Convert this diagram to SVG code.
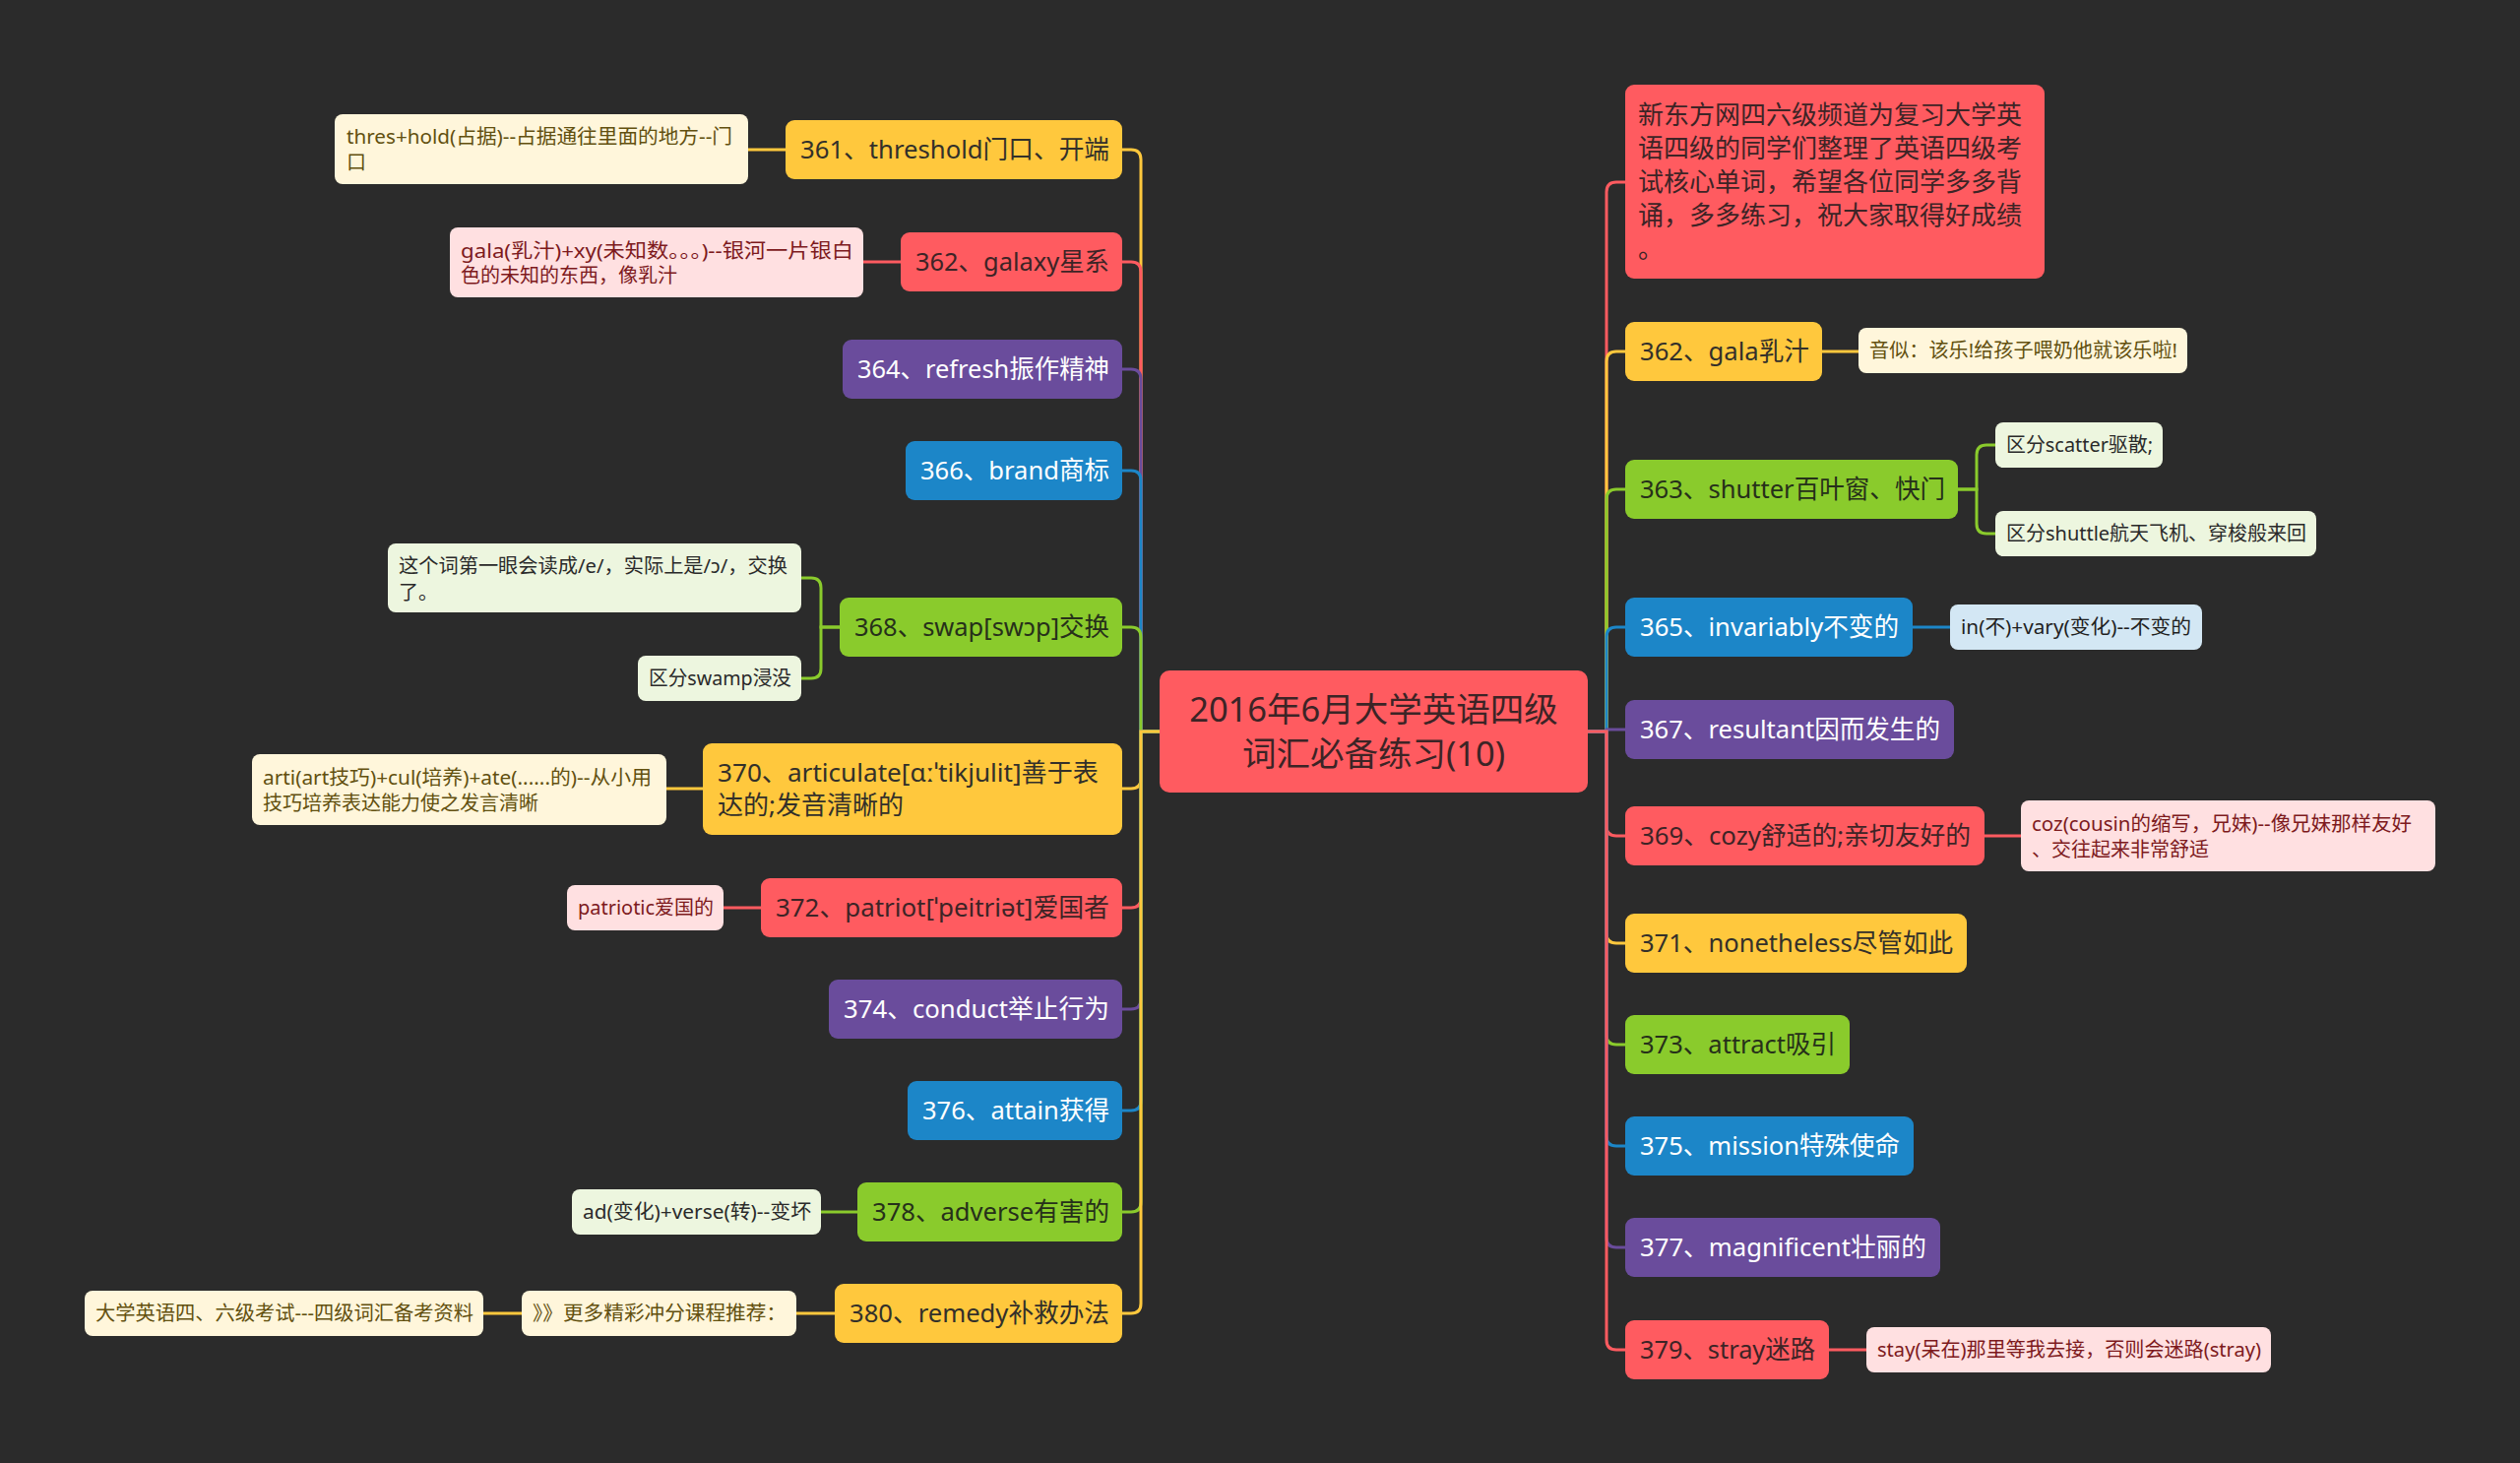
<svg xmlns="http://www.w3.org/2000/svg" width="2560" height="1486" viewBox="0 0 2560 1486">
<style>
text{font-family:'Noto Sans','Noto Sans CJK SC',sans-serif;}
.m{font-size:26px}
.s{font-size:20px}
.ttl{font-size:34.5px;fill:#3c2426;text-anchor:middle}
.fy{fill:#FFC83D}.fr{fill:#FF5B60}.fp{fill:#6A4C9C}.fb{fill:#1C86C8}.fg{fill:#8ACB2C}
.ny{fill:#FFF6DB}.nr{fill:#FFE0E1}.ng{fill:#EDF6DF}.nb{fill:#D3E7F4}
.ty{fill:#33302a}.tr{fill:#3d2426}.tg{fill:#26301a}.tw{fill:#ffffff}
.ky{fill:#62500f}.kr{fill:#7d1a1d}.kg{fill:#2a2a2a}.kb{fill:#1f1f1f}
.c{fill:none;stroke-width:3}
.cy{stroke:#FFC83D}.cr{stroke:#FF5B60}.cp{stroke:#6A4C9C}.cb{stroke:#1C86C8}.cg{stroke:#8ACB2C}
</style>
<rect width="2560" height="1486" fill="#2b2b2b"/>
<g id="connectors">
<path class="c cy" d="M1178 743 H1159 V162 Q1159 152 1149 152 H1140"/>
<path class="c cr" d="M1178 743 H1159 V276 Q1159 266 1149 266 H1140"/>
<path class="c cp" d="M1178 743 H1159 V385 Q1159 375 1149 375 H1140"/>
<path class="c cb" d="M1178 743 H1159 V488 Q1159 478 1149 478 H1140"/>
<path class="c cg" d="M1178 743 H1159 V647 Q1159 637 1149 637 H1140"/>
<path class="c cy" d="M1178 743 H1159 V791 Q1159 801 1149 801 H1140"/>
<path class="c cr" d="M1178 743 H1159 V912 Q1159 922 1149 922 H1140"/>
<path class="c cp" d="M1178 743 H1159 V1015 Q1159 1025 1149 1025 H1140"/>
<path class="c cb" d="M1178 743 H1159 V1118 Q1159 1128 1149 1128 H1140"/>
<path class="c cg" d="M1178 743 H1159 V1221 Q1159 1231 1149 1231 H1140"/>
<path class="c cy" d="M1178 743 H1159 V1324 Q1159 1334 1149 1334 H1140"/>
<path class="c cr" d="M1613 743 H1632 V195 Q1632 185 1642 185 H1651"/>
<path class="c cy" d="M1613 743 H1632 V367 Q1632 357 1642 357 H1651"/>
<path class="c cg" d="M1613 743 H1632 V507 Q1632 497 1642 497 H1651"/>
<path class="c cb" d="M1613 743 H1632 V647 Q1632 637 1642 637 H1651"/>
<path class="c cp" d="M1613 743 H1632 V741 H1651"/>
<path class="c cr" d="M1613 743 H1632 V839 Q1632 849 1642 849 H1651"/>
<path class="c cy" d="M1613 743 H1632 V948 Q1632 958 1642 958 H1651"/>
<path class="c cg" d="M1613 743 H1632 V1051 Q1632 1061 1642 1061 H1651"/>
<path class="c cb" d="M1613 743 H1632 V1154 Q1632 1164 1642 1164 H1651"/>
<path class="c cp" d="M1613 743 H1632 V1257 Q1632 1267 1642 1267 H1651"/>
<path class="c cr" d="M1613 743 H1632 V1361 Q1632 1371 1642 1371 H1651"/>
<path class="c cy" d="M798 152 H760"/>
<path class="c cr" d="M915 266 H877"/>
<path class="c cg" d="M853 637 H834 V597 Q834 587 824 587 H814"/>
<path class="c cg" d="M853 637 H834 V679 Q834 689 824 689 H814"/>
<path class="c cy" d="M714 801 H677"/>
<path class="c cr" d="M773 922 H735"/>
<path class="c cg" d="M871 1231 H834"/>
<path class="c cy" d="M848 1334 H809"/>
<path class="c cy" d="M530 1334 H491"/>
<path class="c cy" d="M1851 357 H1888"/>
<path class="c cg" d="M1989 497 H2008 V462 Q2008 452 2018 452 H2027"/>
<path class="c cg" d="M1989 497 H2008 V532 Q2008 542 2018 542 H2027"/>
<path class="c cb" d="M1943 637 H1981"/>
<path class="c cr" d="M2016 849 H2053"/>
<path class="c cr" d="M1858 1371 H1896"/>
</g>
<g id="root">
<rect class="fr" x="1178" y="681" width="435" height="124" rx="10"/>
<text class="ttl" x="1395.5" y="733">2016年6月大学英语四级</text>
<text class="ttl" x="1395.5" y="778">词汇必备练习(10)</text>
</g>
<g id="n361"><rect class="fy" x="798" y="122" width="342" height="60" rx="9"/><text class="m ty" x="813" y="161" textLength="314" lengthAdjust="spacingAndGlyphs">361、threshold门口、开端</text></g>
<g id="n361a"><rect class="ny" x="340" y="116" width="420" height="71" rx="8"/><text class="s ky" x="352" y="146" textLength="392" lengthAdjust="spacingAndGlyphs">thres+hold(占据)--占据通往里面的地方--门</text><text class="s ky" x="352" y="172">口</text></g>
<g id="n362"><rect class="fr" x="915" y="236" width="225" height="60" rx="9"/><text class="m tr" x="930" y="275" textLength="197" lengthAdjust="spacingAndGlyphs">362、galaxy星系</text></g>
<g id="n362a"><rect class="nr" x="457" y="231" width="420" height="71" rx="8"/><text class="s kr" x="468" y="262" textLength="399" lengthAdjust="spacingAndGlyphs">gala(乳汁)+xy(未知数。。。)--银河一片银白</text><text class="s kr" x="468" y="287">色的未知的东西，像乳汁</text></g>
<g id="n364"><rect class="fp" x="856" y="345" width="284" height="60" rx="9"/><text class="m tw" x="871" y="384" textLength="256" lengthAdjust="spacingAndGlyphs">364、refresh振作精神</text></g>
<g id="n366"><rect class="fb" x="920" y="448" width="220" height="60" rx="9"/><text class="m tw" x="935" y="487" textLength="192" lengthAdjust="spacingAndGlyphs">366、brand商标</text></g>
<g id="n368"><rect class="fg" x="853" y="607" width="287" height="60" rx="9"/><text class="m tg" x="868" y="646" textLength="259" lengthAdjust="spacingAndGlyphs">368、swap[swɔp]交换</text></g>
<g id="n368a"><rect class="ng" x="394" y="552" width="420" height="70" rx="8"/><text class="s kg" x="405" y="582" textLength="395" lengthAdjust="spacingAndGlyphs">这个词第一眼会读成/e/，实际上是/ɔ/，交换</text><text class="s kg" x="405" y="609">了。</text></g>
<g id="n368b"><rect class="ng" x="648" y="666" width="166" height="46" rx="8"/><text class="s kg" x="659" y="696" textLength="145" lengthAdjust="spacingAndGlyphs">区分swamp浸没</text></g>
<g id="n370"><rect class="fy" x="714" y="755" width="426" height="93" rx="9"/><text class="m ty" x="729" y="794" textLength="387" lengthAdjust="spacingAndGlyphs">370、articulate[ɑːˈtikjulit]善于表</text><text class="m ty" x="729" y="827">达的;发音清晰的</text></g>
<g id="n370a"><rect class="ny" x="256" y="766" width="421" height="72" rx="8"/><text class="s ky" x="267" y="797" textLength="395" lengthAdjust="spacingAndGlyphs">arti(art技巧)+cul(培养)+ate(......的)--从小用</text><text class="s ky" x="267" y="823">技巧培养表达能力使之发言清晰</text></g>
<g id="n372"><rect class="fr" x="773" y="892" width="367" height="60" rx="9"/><text class="m tr" x="788" y="931" textLength="339" lengthAdjust="spacingAndGlyphs">372、patriot[ˈpeitriət]爱国者</text></g>
<g id="n372a"><rect class="nr" x="576" y="899" width="159" height="46" rx="8"/><text class="s kr" x="587" y="929" textLength="138" lengthAdjust="spacingAndGlyphs">patriotic爱国的</text></g>
<g id="n374"><rect class="fp" x="842" y="995" width="298" height="60" rx="9"/><text class="m tw" x="857" y="1034" textLength="270" lengthAdjust="spacingAndGlyphs">374、conduct举止行为</text></g>
<g id="n376"><rect class="fb" x="922" y="1098" width="218" height="60" rx="9"/><text class="m tw" x="937" y="1137" textLength="190" lengthAdjust="spacingAndGlyphs">376、attain获得</text></g>
<g id="n378"><rect class="fg" x="871" y="1201" width="269" height="60" rx="9"/><text class="m tg" x="886" y="1240" textLength="241" lengthAdjust="spacingAndGlyphs">378、adverse有害的</text></g>
<g id="n378a"><rect class="ng" x="581" y="1208" width="253" height="46" rx="8"/><text class="s kg" x="592" y="1238" textLength="232" lengthAdjust="spacingAndGlyphs">ad(变化)+verse(转)--变坏</text></g>
<g id="n380"><rect class="fy" x="848" y="1304" width="292" height="60" rx="9"/><text class="m ty" x="863" y="1343" textLength="264" lengthAdjust="spacingAndGlyphs">380、remedy补救办法</text></g>
<g id="n380a"><rect class="ny" x="530" y="1311" width="279" height="46" rx="8"/><text class="s ky" x="541" y="1341" textLength="258" lengthAdjust="spacingAndGlyphs">》》更多精彩冲分课程推荐：</text></g>
<g id="n380b"><rect class="ny" x="86" y="1311" width="405" height="46" rx="8"/><text class="s ky" x="97" y="1341" textLength="384" lengthAdjust="spacingAndGlyphs">大学英语四、六级考试---四级词汇备考资料</text></g>
<g id="intro"><rect class="fr" x="1651" y="86" width="426" height="197" rx="9"/>
<text class="m tr" x="1664" y="126">新东方网四六级频道为复习大学英</text>
<text class="m tr" x="1664" y="160">语四级的同学们整理了英语四级考</text>
<text class="m tr" x="1664" y="194">试核心单词，希望各位同学多多背</text>
<text class="m tr" x="1664" y="228">诵，多多练习，祝大家取得好成绩</text>
<text class="m tr" x="1664" y="262">。</text></g>
<g id="r362"><rect class="fy" x="1651" y="327" width="200" height="60" rx="9"/><text class="m ty" x="1666" y="366" textLength="172" lengthAdjust="spacingAndGlyphs">362、gala乳汁</text></g>
<g id="r362a"><rect class="ny" x="1888" y="333" width="334" height="46" rx="8"/><text class="s ky" x="1899" y="363" textLength="313" lengthAdjust="spacingAndGlyphs">音似：该乐!给孩子喂奶他就该乐啦!</text></g>
<g id="r363"><rect class="fg" x="1651" y="467" width="338" height="60" rx="9"/><text class="m tg" x="1666" y="506" textLength="310" lengthAdjust="spacingAndGlyphs">363、shutter百叶窗、快门</text></g>
<g id="r363a"><rect class="ng" x="2027" y="429" width="170" height="46" rx="8"/><text class="s kg" x="2038" y="459" textLength="149" lengthAdjust="spacingAndGlyphs">区分scatter驱散;</text></g>
<g id="r363b"><rect class="ng" x="2027" y="519" width="326" height="46" rx="8"/><text class="s kg" x="2038" y="549" textLength="305" lengthAdjust="spacingAndGlyphs">区分shuttle航天飞机、穿梭般来回</text></g>
<g id="r365"><rect class="fb" x="1651" y="607" width="292" height="60" rx="9"/><text class="m tw" x="1666" y="646" textLength="263" lengthAdjust="spacingAndGlyphs">365、invariably不变的</text></g>
<g id="r365a"><rect class="nb" x="1981" y="614" width="256" height="46" rx="8"/><text class="s kb" x="1992" y="644" textLength="234" lengthAdjust="spacingAndGlyphs">in(不)+vary(变化)--不变的</text></g>
<g id="r367"><rect class="fp" x="1651" y="711" width="334" height="60" rx="9"/><text class="m tw" x="1666" y="750" textLength="305" lengthAdjust="spacingAndGlyphs">367、resultant因而发生的</text></g>
<g id="r369"><rect class="fr" x="1651" y="819" width="365" height="60" rx="9"/><text class="m tr" x="1666" y="858" textLength="336" lengthAdjust="spacingAndGlyphs">369、cozy舒适的;亲切友好的</text></g>
<g id="r369a"><rect class="nr" x="2053" y="813" width="421" height="72" rx="8"/><text class="s kr" x="2064" y="844" textLength="386" lengthAdjust="spacingAndGlyphs">coz(cousin的缩写，兄妹)--像兄妹那样友好</text><text class="s kr" x="2064" y="870">、交往起来非常舒适</text></g>
<g id="r371"><rect class="fy" x="1651" y="928" width="347" height="60" rx="9"/><text class="m ty" x="1666" y="967" textLength="318" lengthAdjust="spacingAndGlyphs">371、nonetheless尽管如此</text></g>
<g id="r373"><rect class="fg" x="1651" y="1031" width="228" height="60" rx="9"/><text class="m tg" x="1666" y="1070" textLength="199" lengthAdjust="spacingAndGlyphs">373、attract吸引</text></g>
<g id="r375"><rect class="fb" x="1651" y="1134" width="293" height="60" rx="9"/><text class="m tw" x="1666" y="1173" textLength="264" lengthAdjust="spacingAndGlyphs">375、mission特殊使命</text></g>
<g id="r377"><rect class="fp" x="1651" y="1237" width="320" height="60" rx="9"/><text class="m tw" x="1666" y="1276" textLength="291" lengthAdjust="spacingAndGlyphs">377、magnificent壮丽的</text></g>
<g id="r379"><rect class="fr" x="1651" y="1341" width="207" height="60" rx="9"/><text class="m tr" x="1666" y="1380" textLength="178" lengthAdjust="spacingAndGlyphs">379、stray迷路</text></g>
<g id="r379a"><rect class="nr" x="1896" y="1348" width="411" height="46" rx="8"/><text class="s kr" x="1907" y="1378" textLength="390" lengthAdjust="spacingAndGlyphs">stay(呆在)那里等我去接，否则会迷路(stray)</text></g>
</svg>
